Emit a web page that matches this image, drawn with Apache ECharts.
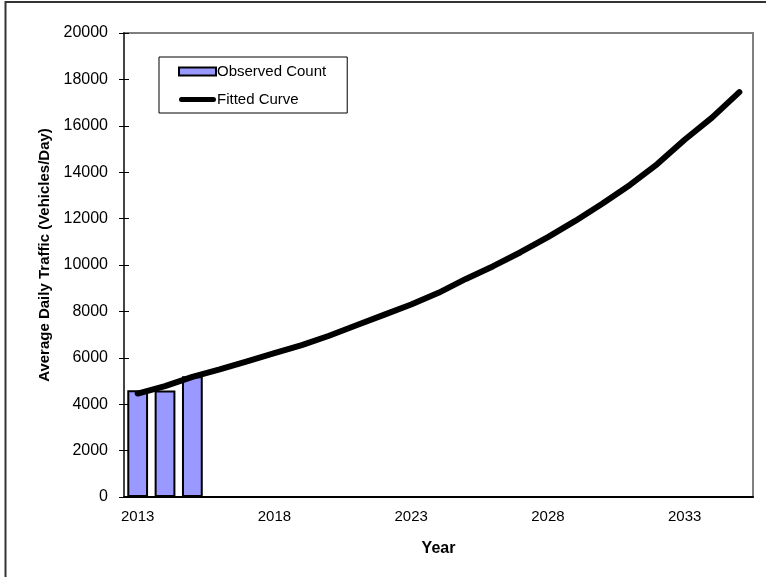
<!DOCTYPE html>
<html>
<head>
<meta charset="utf-8">
<script src="https://cdn.jsdelivr.net/npm/echarts@6/dist/echarts.min.js"></script>
<style>
  html, body { margin: 0; padding: 0; background: #fff; }
  #chart { width: 766px; height: 577px; }
</style>
</head>
<body>
<div id="chart"></div>
<script>
const years = ['2013', '2014', '2015', '2016', '2017', '2018', '2019', '2020', '2021', '2022', '2023', '2024',
  '2025', '2026', '2027', '2028', '2029', '2030', '2031', '2032', '2033', '2034', '2035'];
const observedCount = [4600, 4590, 5200, null, null, null, null, null, null, null, null, null,
  null, null, null, null, null, null, null, null, null, null, null];
const fittedCurve = [4460, 4780, 5180, 5500, 5850, 6200, 6550, 6950, 7400, 7850, 8300, 8800,
  9400, 9950, 10550, 11200, 11900, 12650, 13450, 14350, 15400, 16350, 17450];

const font = 'Arial, "Liberation Sans", sans-serif';
const chart = echarts.init(document.getElementById('chart'));

// Excel style ticks cross the axis line: a second, label-less axis adds the inside half
const tickStyle = { color: '#000', width: 1 };

const option = {
  animation: false,
  backgroundColor: '#fff',
  grid: {
    left: 124, right: 13, top: 33, bottom: 80,
    show: true, borderColor: '#808080', borderWidth: 2
  },
  legend: {
    orient: 'vertical',
    left: 159, top: 57,
    padding: [7, 21, 6, 19],
    itemGap: 13,
    itemWidth: 37, itemHeight: 8,
    borderColor: '#000', borderWidth: 1,
    backgroundColor: '#fff',
    textStyle: { fontFamily: font, fontSize: 15, color: '#000', padding: [0, 0, 0, -4] },
    data: [
      { name: 'Observed Count', icon: 'rect' },
      { name: 'Fitted Curve', icon: 'path://M3,0 L41,0 A3,3 0 0 1 41,6 L3,6 A3,3 0 0 1 3,0 Z', itemStyle: { color: '#000', borderWidth: 0 } }
    ]
  },
  xAxis: [{
    type: 'category',
    data: years,
    name: 'Year',
    nameLocation: 'middle',
    nameGap: 44,
    nameTextStyle: { fontFamily: font, fontSize: 16, fontWeight: 'bold', color: '#000' },
    axisLine: { lineStyle: { color: '#000', width: 2 } },
    axisTick: { interval: 0, length: 5, lineStyle: tickStyle },
    axisLabel: { interval: 4, fontFamily: font, fontSize: 15, color: '#000', margin: 12 },
    splitLine: { show: false }
  }, {
    type: 'category',
    data: years,
    position: 'bottom',
    axisLine: { show: false },
    axisTick: { interval: 0, inside: true, length: 5, lineStyle: tickStyle },
    axisLabel: { show: false },
    splitLine: { show: false }
  }],
  yAxis: [{
    type: 'value',
    min: 0, max: 20000, interval: 2000,
    name: 'Average Daily Traffic (Vehicles/Day)',
    nameLocation: 'middle',
    nameGap: 72,
    nameTextStyle: { fontFamily: font, fontSize: 15, fontWeight: 'bold', color: '#000', padding: [0, 0, 0, 20] },
    axisLine: { show: true, lineStyle: { color: '#444', width: 2 } },
    axisTick: { show: true, length: 5, lineStyle: tickStyle },
    axisLabel: { fontFamily: font, fontSize: 16, color: '#000', margin: 16, formatter: function (v) { return String(v); } },
    splitLine: { show: false }
  }, {
    type: 'value',
    position: 'left',
    min: 0, max: 20000, interval: 2000,
    axisLine: { show: false },
    axisTick: { show: true, inside: true, length: 5, lineStyle: tickStyle },
    axisLabel: { show: false },
    splitLine: { show: false }
  }],
  series: [{
    name: 'Observed Count',
    type: 'bar',
    data: observedCount,
    barCategoryGap: '24%',
    itemStyle: { color: '#9999ff', borderColor: '#000', borderWidth: 2 }
  }, {
    name: 'Fitted Curve',
    type: 'line',
    data: fittedCurve,
    symbol: 'none',
    lineStyle: { color: '#000', width: 6, cap: 'round', join: 'round' },
    itemStyle: { color: '#000' },
    z: 5
  }],
  graphic: [{
    type: 'polyline',
    shape: { points: [[5.5, 577], [5.5, 2], [766, 2]] },
    style: { stroke: '#333', lineWidth: 2, fill: null }
  }]
};

chart.setOption(option);
window.addEventListener('resize', function () {
  chart.resize();
});
</script>
</body>
</html>
